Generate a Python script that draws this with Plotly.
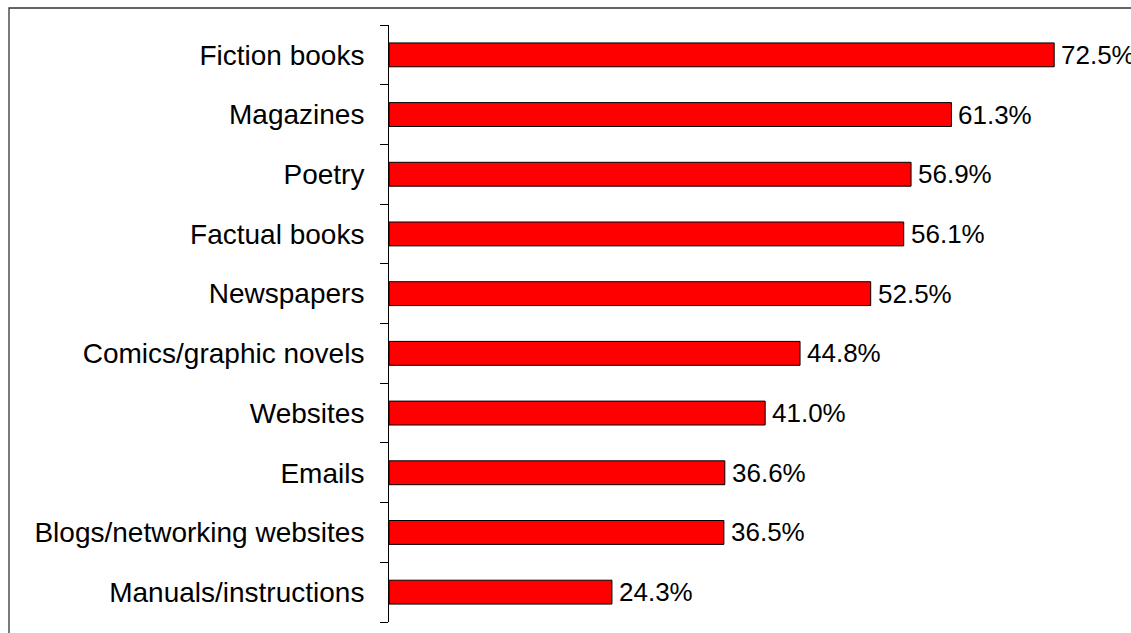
import plotly.graph_objects as go

# Share of respondents who read each material type
categories = [
    "Fiction books",
    "Magazines",
    "Poetry",
    "Factual books",
    "Newspapers",
    "Comics/graphic novels",
    "Websites",
    "Emails",
    "Blogs/networking websites",
    "Manuals/instructions",
]
values = [72.5, 61.3, 56.9, 56.1, 52.5, 44.8, 41.0, 36.6, 36.5, 24.3]
value_labels = [f"{v:.1f}%" for v in values]

W, H = 1131, 633
left, right, top, bottom = 389, 1123, 25, 622
FONT = "Liberation Sans, Arial, sans-serif"

fig = go.Figure(
    go.Bar(
        x=values,
        y=categories,
        orientation="h",
        marker=dict(color="#FF0000", line=dict(color="#000000", width=1)),
        width=0.4,
        hoverinfo="skip",
    )
)

# Value labels placed just past the end of each bar
for cat, v, lab in zip(categories, values, value_labels):
    fig.add_annotation(
        x=v, y=cat, text=lab,
        xanchor="left", yanchor="middle",
        xshift=5, showarrow=False,
        font=dict(family=FONT, size=26, color="#000000"),
    )

# Outer frame around the chart area
fig.add_shape(
    type="rect",
    xref="paper", yref="paper",
    x0=(9 - left) / (right - left), x1=1.2,
    y0=-0.2, y1=(bottom - 8) / (bottom - top),
    line=dict(color="#333333", width=1.3),
    fillcolor="rgba(0,0,0,0)",
    layer="below",
)

fig.update_layout(
    width=W,
    height=H,
    margin=dict(l=left, r=W - right, t=top, b=H - bottom, pad=0),
    paper_bgcolor="white",
    plot_bgcolor="white",
    showlegend=False,
    font=dict(family=FONT, size=28, color="#000000"),
)
fig.update_xaxes(
    range=[0, 80],
    visible=False,
    showgrid=False,
    zeroline=False,
)
fig.update_yaxes(
    type="category",
    categoryorder="array",
    categoryarray=categories[::-1],
    range=[-0.5, len(categories) - 0.5],
    showline=True,
    linecolor="#000000",
    linewidth=1,
    ticks="outside",
    tickson="boundaries",
    ticklen=8,
    tickcolor="#000000",
    tickfont=dict(family=FONT, size=28, color="#000000"),
    ticklabelstandoff=18,
    showgrid=False,
    zeroline=False,
)

fig.write_html("out.html")
